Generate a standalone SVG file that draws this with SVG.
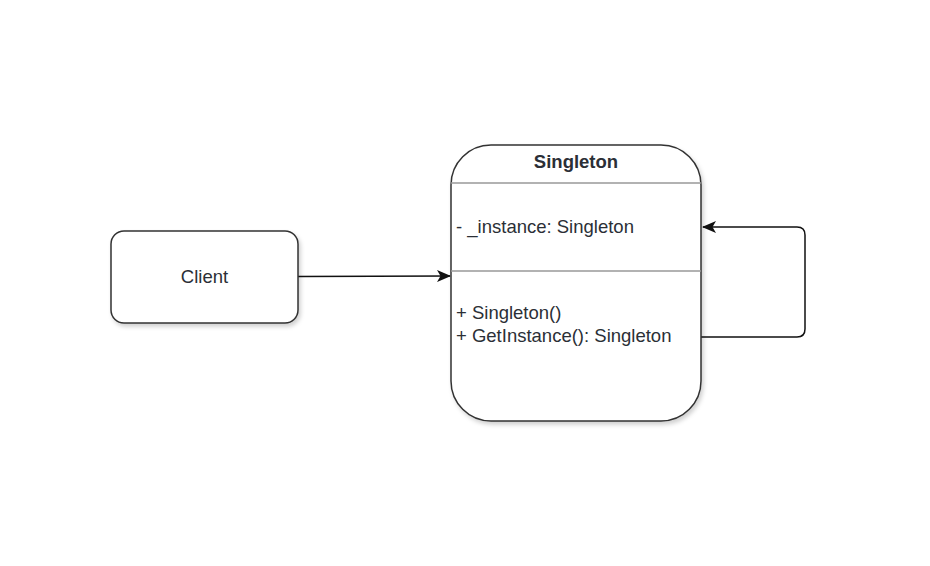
<svg xmlns="http://www.w3.org/2000/svg" width="930" height="566" viewBox="0 0 930 566">
<style>
.box{fill:#ffffff;stroke:#333333;stroke-width:1.5;filter:url(#sh)}
.div{stroke:#999999;stroke-width:1.5;fill:none}
.t{font-family:"Liberation Sans",Arial,sans-serif;font-size:18.5px;fill:#2b2f36}
.b{font-weight:bold;font-size:18.5px}
.edge{fill:none;stroke:#111111;stroke-width:1.5}
</style>
<defs>
<filter id="sh" x="-10%" y="-10%" width="130%" height="130%">
<feDropShadow dx="2" dy="3" stdDeviation="2" flood-color="#000000" flood-opacity="0.18"/>
</filter>
<marker id="arr" viewBox="0 0 14 12" refX="13" refY="6" markerWidth="14" markerHeight="12" markerUnits="userSpaceOnUse" orient="auto">
<path d="M0,0 L14,6 L0,12 L3.5,6 Z" fill="#111111"/>
</marker>
</defs>
<g id="connectors">
<path class="edge" d="M298,276.5 L450,276" marker-end="url(#arr)"/>
<path class="edge" d="M701,337 L797,337 Q805,337 805,329 L805,235 Q805,227 797,227 L703,227" marker-end="url(#arr)"/>
</g>
<g id="client">
<rect class="box" x="111" y="231" width="187" height="92" rx="13" ry="13"/>
<text class="t" x="204.5" y="283" text-anchor="middle">Client</text>
</g>
<g id="singleton">
<rect class="box" x="451" y="145" width="250" height="276" rx="40" ry="40"/>
<line class="div" x1="451" y1="183" x2="701" y2="183"/>
<line class="div" x1="451" y1="271" x2="701" y2="271"/>
<text class="t b" x="576" y="168" text-anchor="middle">Singleton</text>
<text class="t" x="456" y="233">- _instance: Singleton</text>
<text class="t" x="456" y="319">+ Singleton()</text>
<text class="t" x="456" y="342">+ GetInstance(): Singleton</text>
</g>
</svg>
